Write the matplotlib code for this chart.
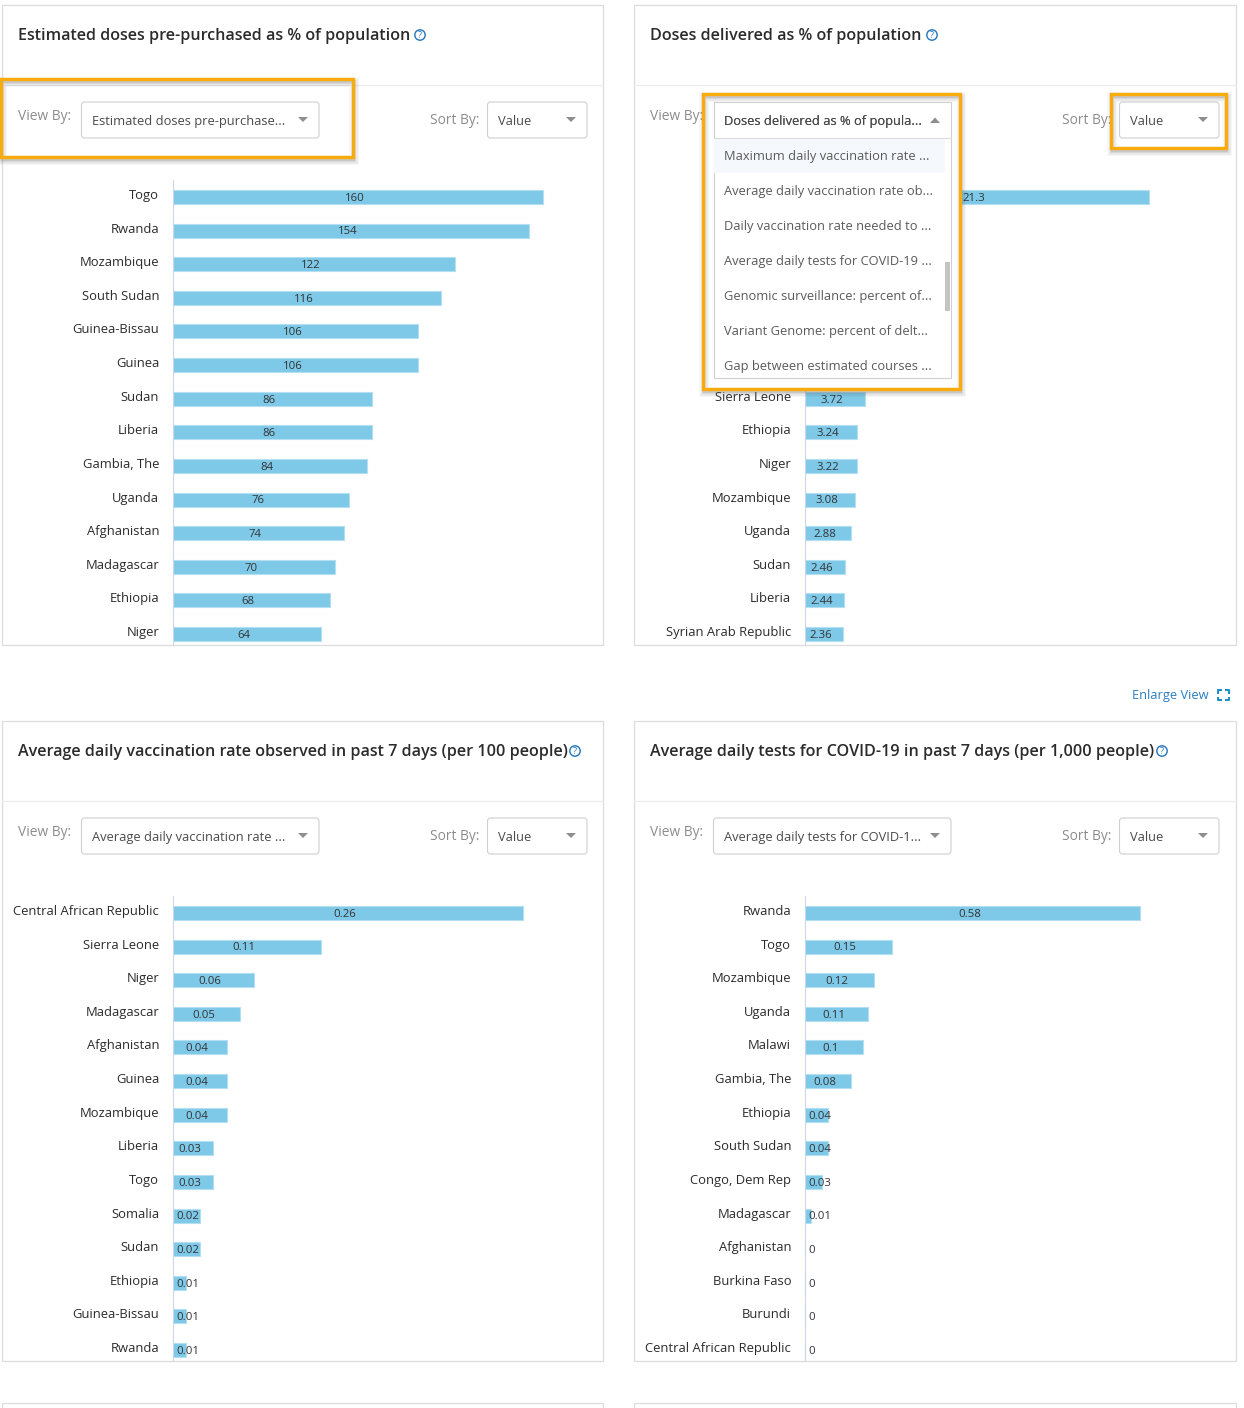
import matplotlib
matplotlib.use('Agg')
import matplotlib.pyplot as plt
from matplotlib.patches import Rectangle, FancyBboxPatch, Polygon, Circle
from matplotlib.transforms import ScaledTranslation
import numpy as np

plt.rcParams['font.family'] = ['Open Sans', 'DejaVu Sans']

W, H = 1244, 1408
nan = float('nan')

# rows the dropdown hides in the second panel are left blank
pre_countries = ['Togo', 'Rwanda', 'Mozambique', 'South Sudan', 'Guinea-Bissau', 'Guinea', 'Sudan',
                 'Liberia', 'Gambia, The', 'Uganda', 'Afghanistan', 'Madagascar', 'Ethiopia', 'Niger']
pre_values = [160, 154, 122, 116, 106, 106, 86, 86, 84, 76, 74, 70, 68, 64]

del_countries = ['', '', '', '', '', '', 'Sierra Leone', 'Ethiopia', 'Niger', 'Mozambique', 'Uganda',
                 'Sudan', 'Liberia', 'Syrian Arab Republic']
del_values = [21.3, nan, nan, nan, nan, nan, 3.72, 3.24, 3.22, 3.08, 2.88, 2.46, 2.44, 2.36]

vac_countries = ['Central African Republic', 'Sierra Leone', 'Niger', 'Madagascar', 'Afghanistan', 'Guinea',
                 'Mozambique', 'Liberia', 'Togo', 'Somalia', 'Sudan', 'Ethiopia', 'Guinea-Bissau', 'Rwanda']
vac_values = [0.26, 0.11, 0.06, 0.05, 0.04, 0.04, 0.04, 0.03, 0.03, 0.02, 0.02, 0.01, 0.01, 0.01]

test_countries = ['Rwanda', 'Togo', 'Mozambique', 'Uganda', 'Malawi', 'Gambia, The', 'Ethiopia', 'South Sudan',
                  'Congo, Dem Rep', 'Madagascar', 'Afghanistan', 'Burkina Faso', 'Burundi',
                  'Central African Republic']
test_values = [0.58, 0.15, 0.12, 0.11, 0.1, 0.08, 0.04, 0.04, 0.03, 0.01, 0, 0, 0, 0]

menu_items = ['Maximum daily vaccination rate ...', 'Average daily vaccination rate ob...',
              'Daily vaccination rate needed to ...', 'Average daily tests for COVID-19 ...',
              'Genomic surveillance: percent of...', 'Variant Genome: percent of delt...',
              'Gap between estimated courses ...']

BAR = '#7ec8e8'
EDGE = '#b4dff1'
DARK = '#333333'
GREY = '#8c8c8c'
ORANGE = '#f9ab0c'
BLUE = '#2273b9'
ROW = 33.62

fig = plt.figure(figsize=(W / 100, H / 100), dpi=100, facecolor='white')


def chart(x0, top, bar_px, countries, values):
    right = x0 + 430
    ax = fig.add_axes([x0 / W, 1 - (top + 465) / H, (right - x0) / W, 465 / H])
    ppu = bar_px / np.nanmax(values)
    ax.set_xlim(0, (right - x0) / ppu)
    y = np.arange(len(values))
    ax.set_ylim(448 / ROW, -17 / ROW)
    ax.barh(y, values, height=14 / ROW, color=BAR, edgecolor=EDGE, linewidth=0.8)
    for s in ['top', 'right', 'bottom']:
        ax.spines[s].set_visible(False)
    ax.spines['left'].set_color('#ccd6eb')
    ax.set_xticks([])
    ax.set_yticks(y)
    ax.set_yticklabels(countries, fontsize=9.35, color='#2b2b2b')
    ax.tick_params(axis='y', length=0, pad=9.8)
    up = ScaledTranslation(0, 3 / 100, fig.dpi_scale_trans)
    for lab in ax.get_yticklabels():
        lab.set_transform(lab.get_transform() + up)
    for i, v in enumerate(values):
        if np.isnan(v):
            continue
        txt = '%g' % v
        tw = len(txt) * 5.6
        centre = max(v * ppu / 2 - 3, tw / 2 + 4)
        ax.text(centre / ppu, i + 0.04, txt, fontsize=8.2, color=DARK, ha='center', va='center')
    ax.patch.set_alpha(0)
    return ax


chart(172.8, 180, 370, pre_countries, pre_values)
chart(804.8, 180, 344.5, del_countries, del_values)
chart(172.8, 896, 350, vac_countries, vac_values)
chart(804.8, 896, 335.5, test_countries, test_values)

# page furniture drawn in pixel coordinates on top of the charts
ui = fig.add_axes([0, 0, 1, 1], zorder=5)
ui.set_xlim(0, W)
ui.set_ylim(H, 0)
ui.axis('off')


def select(x0, x1, y0, label, arrow=True):
    ui.add_patch(FancyBboxPatch((x0 + 2.5, y0 + 2), x1 - x0 - 4.5, 32, boxstyle='round,pad=2,rounding_size=3',
                                fc='white', ec='#cfcfcf', lw=0.8, zorder=3))
    ui.text(x0 + 11, y0 + 19.4, label, fontsize=9.3, color='#4a4a4a', va='center', zorder=4)
    if arrow:
        ax_ = x1 - 16
        ay = y0 + 17
        ui.add_patch(Polygon([(ax_ - 5, ay - 2), (ax_ + 5, ay - 2), (ax_, ay + 3)],
                             fc='#8e8e8e', ec='none', zorder=4))


def panel(x0, x1, top, title, help_x, view_label, arrow=True):
    ui.add_patch(Rectangle((x0, top), x1 - x0, 640, fc='none', ec='#dcdcdc', lw=0.9, zorder=1))
    ui.plot([x0, x1], [top + 80, top + 80], color='#ececec', lw=0.9, zorder=1)
    ui.text(x0 + 16.5, top + 30.5, title, fontsize=11.6, color='#2b2b2b', fontweight='semibold',
            va='center', zorder=2)
    ui.add_patch(Circle((help_x, top + 30), 5.2, fc='white', ec=BLUE, lw=1.0, zorder=2))
    ui.text(help_x, top + 30, '?', fontsize=6.5, color=BLUE, ha='center', va='center', zorder=3)
    ui.text(x0 + 16.5, top + 112, 'View By:', fontsize=9.9, color=GREY, va='center', zorder=2)
    ui.text(x0 + 477, top + 116, 'Sort By:', fontsize=9.9, color=GREY, ha='right', va='center', zorder=2)
    select(x0 + 79, x0 + 317, top + 97, view_label, arrow)
    select(x0 + 485, x0 + 585, top + 97, 'Value')


def highlight(x0, y0, x1, y1):
    for grow, alpha in [(7, 0.05), (5, 0.07), (3, 0.1), (1.5, 0.14)]:
        ui.add_patch(Rectangle((x0 + 1, y0 + 3), x1 - x0, y1 - y0, fc='none', ec='#555555', lw=grow,
                               alpha=alpha, zorder=6))
    ui.add_patch(Rectangle((x0, y0), x1 - x0, y1 - y0, fc='none', ec=ORANGE, lw=2.4, zorder=7))


panel(2, 603, 5, 'Estimated doses pre-purchased as % of population', 420, 'Estimated doses pre-purchase...')
panel(634, 1236, 5, 'Doses delivered as % of population', 932, 'Doses delivered as % of popula...', arrow=False)
panel(2, 603, 721, 'Average daily vaccination rate observed in past 7 days (per 100 people)', 575,
      'Average daily vaccination rate ...')
panel(634, 1236, 721, 'Average daily tests for COVID-19 in past 7 days (per 1,000 people)', 1162,
      'Average daily tests for COVID-1...')

# open dropdown in the second panel
ui.add_patch(Rectangle((704, 94), 256, 295, fc='white', ec='none', zorder=3))
ui.add_patch(Rectangle((713.5, 102), 237, 276, fc='white', ec='#cfcfcf', lw=0.8, zorder=3))
ui.add_patch(Rectangle((714, 138), 231, 35, fc='#f5f9fd', ec='none', zorder=3))
ui.plot([713.5, 950.5], [138, 138], color='#dcdcdc', lw=0.8, zorder=3)
ui.add_patch(Rectangle((945, 262), 5, 49, fc='#c4c4c4', ec='none', zorder=4))
ui.text(724, 121, 'Doses delivered as % of popula...', fontsize=9.3, color='#4a4a4a', va='center', zorder=4)
ui.add_patch(Polygon([(930, 123), (940, 123), (935, 117.5)], fc='#8e8e8e', ec='none', zorder=4))
for i, item in enumerate(menu_items):
    ui.text(724, 156.5 + 35 * i, item, fontsize=9.3, color='#5a5a5a', va='center', zorder=4)

highlight(0.5, 79, 352.5, 156.5)
highlight(703, 93.5, 960, 388.5)
highlight(1111, 93.5, 1226, 147.5)

# next row of panels, cut off by the image edge
for x0, x1 in [(2, 603), (634, 1236)]:
    ui.plot([x0, x0, x1, x1], [1409, 1402.5, 1402.5, 1409], color='#dcdcdc', lw=0.9, zorder=1)

ui.text(1209, 696, 'Enlarge View', fontsize=9.3, color='#2a7fc0', ha='right', va='center')
for cx, cy, dx, dy in [(1218, 690, 1, 1), (1229, 690, -1, 1), (1218, 700, 1, -1), (1229, 700, -1, -1)]:
    ui.plot([cx + 4 * dx, cx, cx], [cy, cy, cy + 3.5 * dy], color='#1f8fc9', lw=1.5, solid_capstyle='butt')

fig.savefig('out.png', dpi=100)
